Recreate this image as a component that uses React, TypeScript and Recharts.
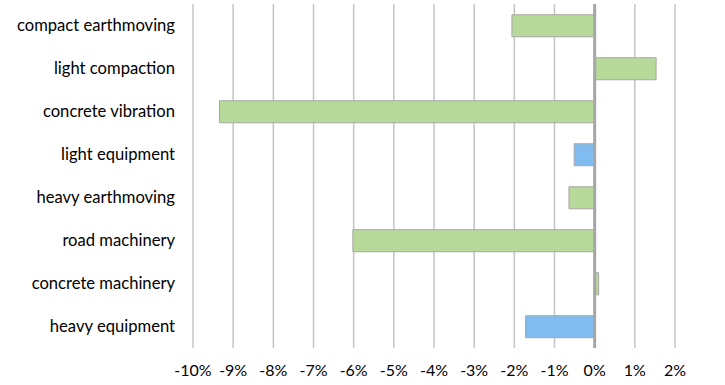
import React from "react";
import { BarChart, Bar, XAxis, YAxis, CartesianGrid, ReferenceLine, Cell } from "recharts";

const categories = [
  "compact earthmoving",
  "light compaction",
  "concrete vibration",
  "light equipment",
  "heavy earthmoving",
  "road machinery",
  "concrete machinery",
  "heavy equipment",
];
const values = [-0.0206, 0.0153, -0.0934, -0.0051, -0.0064, -0.0602, 0.001, -0.0172];
const groups = ["green", "green", "green", "blue", "green", "green", "green", "blue"];
const xTicks = [-0.1, -0.09, -0.08, -0.07, -0.06, -0.05, -0.04, -0.03, -0.02, -0.01, 0, 0.01, 0.02];

const colorMap: Record<string, string> = { green: "#b7d99a", blue: "#80bcf0" };

const data = categories.map((c, i) => ({ name: c, value: values[i], group: groups[i] }));

const FONT = "Lato, 'Open Sans', sans-serif";

export default function App() {
  return (
    <div style={{ position: "absolute", left: 0, top: 0, width: 725, height: 385, background: "#fff" }}>
      <BarChart
        width={725}
        height={385}
        data={data}
        layout="vertical"
        margin={{ top: 4, right: 50, bottom: 0, left: 0 }}
        barCategoryGap="25%"
      >
        <CartesianGrid horizontal={false} vertical={true} stroke="#c4c4c4" strokeWidth={1.5} />
        <XAxis
          type="number"
          domain={[-0.1, 0.02]}
          ticks={xTicks}
          interval={0}
          tickFormatter={(v: number) => `${Math.round(v * 100)}%`}
          axisLine={false}
          tickLine={false}
          tickSize={0}
          tickMargin={17}
          height={37}
          tick={{ fill: "#000", fontSize: 16, fontFamily: FONT }}
        />
        <YAxis
          type="category"
          dataKey="name"
          width={193}
          axisLine={false}
          tickLine={false}
          tickSize={0}
          tickMargin={18}
          interval={0}
          tick={{ fill: "#000", fontSize: 16.6, fontFamily: FONT }}
        />
        <Bar dataKey="value" stroke="#a6a6a6" strokeWidth={1} isAnimationActive={false}>
          {data.map((d, i) => (
            <Cell key={i} fill={colorMap[d.group]} />
          ))}
        </Bar>
        <ReferenceLine x={0} stroke="#a6a6a6" strokeWidth={3} />
      </BarChart>
    </div>
  );
}
